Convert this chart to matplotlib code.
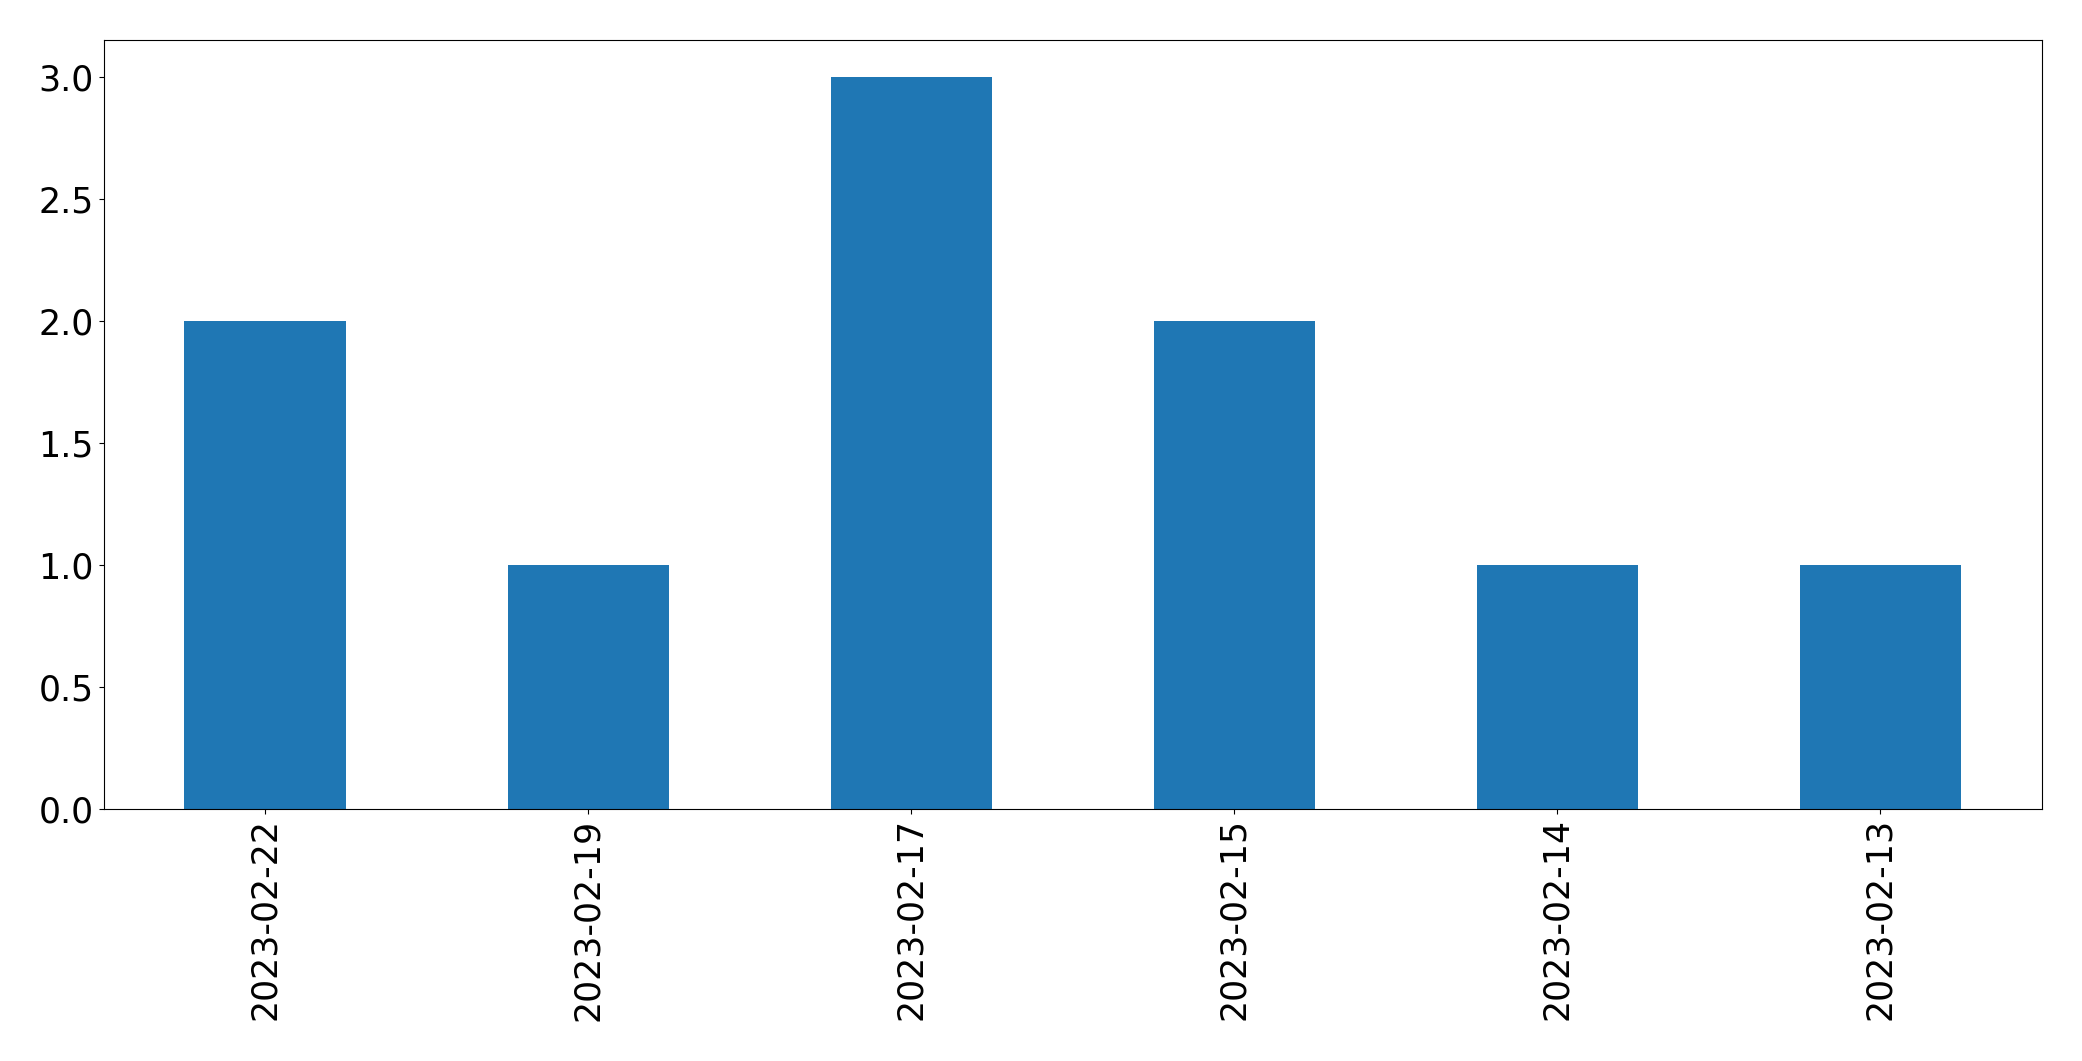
import matplotlib
matplotlib.use('Agg')
import matplotlib.pyplot as plt
import pandas as pd

# ====== DATOS ======
fechas = ['2023-02-22', '2023-02-19', '2023-02-17', '2023-02-15', '2023-02-14', '2023-02-13']
conteos = [2, 1, 3, 2, 1, 1]

serie = pd.Series(conteos, index=fechas)

fig, ax = plt.subplots(figsize=(20.82, 10.61), dpi=100)
serie.plot(kind='bar', ax=ax, color='#1f77b4')
ax.tick_params(axis='both', labelsize=25)

fig.subplots_adjust(left=0.0498, right=0.9808, top=0.9623, bottom=0.2379)
fig.savefig('out.png', dpi=100)
